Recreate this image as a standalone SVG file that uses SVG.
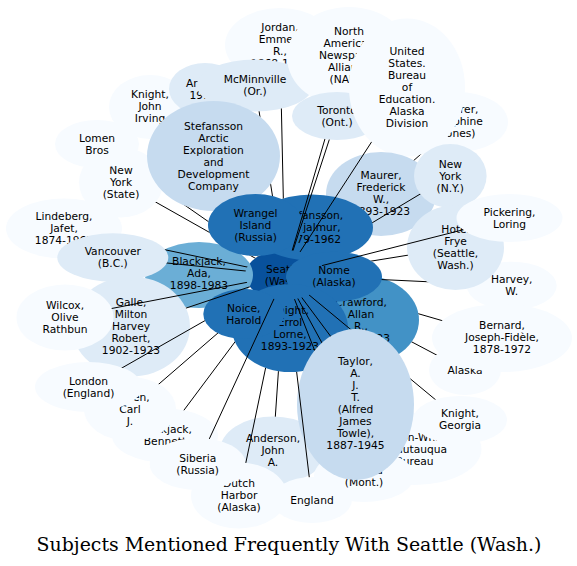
<svg xmlns="http://www.w3.org/2000/svg" xmlns:xlink="http://www.w3.org/1999/xlink" width="577" height="566" viewBox="0 0 577 566">
<style>
.node text{font-family:"DejaVu Sans","Liberation Sans",sans-serif;font-size:10.7px;text-anchor:middle;fill:#000}
.c1{fill:#f7fbff}.c2{fill:#deebf7}.c3{fill:#c6dbef}.c5{fill:#6baed6}.c6{fill:#4292c6}.c7{fill:#2171b5}.c8{fill:#08519c}
mask use{fill:#000}
.edges line{stroke:#000;stroke-width:1}
.title{font-family:"DejaVu Serif","Liberation Serif",serif;font-size:18.9px;text-anchor:middle;fill:#000}
</style>
<defs>
<mask id="m-jordan" maskUnits="userSpaceOnUse" x="0" y="0" width="577" height="566"><rect width="577" height="566" fill="#fff"/><use href="#e-seattle"/><use href="#e-jordan"/><use href="#e-wrangel"/><use href="#e-stefv"/><use href="#e-mcm"/></mask>
<mask id="m-mcm" maskUnits="userSpaceOnUse" x="0" y="0" width="577" height="566"><rect width="577" height="566" fill="#fff"/><use href="#e-seattle"/><use href="#e-mcm"/><use href="#e-wrangel"/><use href="#e-sa"/><use href="#e-stefv"/></mask>
<mask id="m-ar" maskUnits="userSpaceOnUse" x="0" y="0" width="577" height="566"><rect width="577" height="566" fill="#fff"/><use href="#e-seattle"/><use href="#e-ar"/><use href="#e-wrangel"/><use href="#e-sa"/><use href="#e-mcm"/></mask>
<mask id="m-kji" maskUnits="userSpaceOnUse" x="0" y="0" width="577" height="566"><rect width="577" height="566" fill="#fff"/><use href="#e-seattle"/><use href="#e-kji"/><use href="#e-sa"/><use href="#e-wrangel"/></mask>
<mask id="m-lomenbros" maskUnits="userSpaceOnUse" x="0" y="0" width="577" height="566"><rect width="577" height="566" fill="#fff"/><use href="#e-seattle"/><use href="#e-lomenbros"/><use href="#e-sa"/><use href="#e-wrangel"/><use href="#e-nys"/></mask>
<mask id="m-nys" maskUnits="userSpaceOnUse" x="0" y="0" width="577" height="566"><rect width="577" height="566" fill="#fff"/><use href="#e-seattle"/><use href="#e-nys"/><use href="#e-wrangel"/></mask>
<mask id="m-lindeberg" maskUnits="userSpaceOnUse" x="0" y="0" width="577" height="566"><rect width="577" height="566" fill="#fff"/><use href="#e-seattle"/><use href="#e-lindeberg"/><use href="#e-vancouver"/></mask>
<mask id="m-vancouver" maskUnits="userSpaceOnUse" x="0" y="0" width="577" height="566"><rect width="577" height="566" fill="#fff"/><use href="#e-seattle"/><use href="#e-vancouver"/></mask>
<mask id="m-wilcox" maskUnits="userSpaceOnUse" x="0" y="0" width="577" height="566"><rect width="577" height="566" fill="#fff"/><use href="#e-seattle"/><use href="#e-wilcox"/></mask>
<mask id="m-galle" maskUnits="userSpaceOnUse" x="0" y="0" width="577" height="566"><rect width="577" height="566" fill="#fff"/><use href="#e-seattle"/><use href="#e-galle"/></mask>
<mask id="m-london" maskUnits="userSpaceOnUse" x="0" y="0" width="577" height="566"><rect width="577" height="566" fill="#fff"/><use href="#e-seattle"/><use href="#e-london"/><use href="#e-noice"/></mask>
<mask id="m-lomencarl" maskUnits="userSpaceOnUse" x="0" y="0" width="577" height="566"><rect width="577" height="566" fill="#fff"/><use href="#e-seattle"/><use href="#e-lomencarl"/><use href="#e-noice"/><use href="#e-ke"/></mask>
<mask id="m-bennett" maskUnits="userSpaceOnUse" x="0" y="0" width="577" height="566"><rect width="577" height="566" fill="#fff"/><use href="#e-seattle"/><use href="#e-bennett"/><use href="#e-noice"/><use href="#e-ke"/></mask>
<mask id="m-siberia" maskUnits="userSpaceOnUse" x="0" y="0" width="577" height="566"><rect width="577" height="566" fill="#fff"/><use href="#e-seattle"/><use href="#e-siberia"/></mask>
<mask id="m-dutch" maskUnits="userSpaceOnUse" x="0" y="0" width="577" height="566"><rect width="577" height="566" fill="#fff"/><use href="#e-seattle"/><use href="#e-dutch"/><use href="#e-ke"/><use href="#e-noice"/></mask>
<mask id="m-anderson" maskUnits="userSpaceOnUse" x="0" y="0" width="577" height="566"><rect width="577" height="566" fill="#fff"/><use href="#e-seattle"/><use href="#e-anderson"/><use href="#e-ke"/></mask>
<mask id="m-england" maskUnits="userSpaceOnUse" x="0" y="0" width="577" height="566"><rect width="577" height="566" fill="#fff"/><use href="#e-seattle"/><use href="#e-england"/><use href="#e-ke"/></mask>
<mask id="m-helena" maskUnits="userSpaceOnUse" x="0" y="0" width="577" height="566"><rect width="577" height="566" fill="#fff"/><use href="#e-seattle"/><use href="#e-helena"/><use href="#e-taylor"/></mask>
<mask id="m-taylor" maskUnits="userSpaceOnUse" x="0" y="0" width="577" height="566"><rect width="577" height="566" fill="#fff"/><use href="#e-seattle"/><use href="#e-taylor"/></mask>
<mask id="m-ellison" maskUnits="userSpaceOnUse" x="0" y="0" width="577" height="566"><rect width="577" height="566" fill="#fff"/><use href="#e-seattle"/><use href="#e-ellison"/><use href="#e-taylor"/></mask>
<mask id="m-kg" maskUnits="userSpaceOnUse" x="0" y="0" width="577" height="566"><rect width="577" height="566" fill="#fff"/><use href="#e-seattle"/><use href="#e-kg"/><use href="#e-taylor"/></mask>
<mask id="m-alaska" maskUnits="userSpaceOnUse" x="0" y="0" width="577" height="566"><rect width="577" height="566" fill="#fff"/><use href="#e-seattle"/><use href="#e-alaska"/><use href="#e-crawford"/><use href="#e-nome"/><use href="#e-ke"/></mask>
<mask id="m-bernard" maskUnits="userSpaceOnUse" x="0" y="0" width="577" height="566"><rect width="577" height="566" fill="#fff"/><use href="#e-seattle"/><use href="#e-bernard"/><use href="#e-crawford"/><use href="#e-nome"/></mask>
<mask id="m-harvey" maskUnits="userSpaceOnUse" x="0" y="0" width="577" height="566"><rect width="577" height="566" fill="#fff"/><use href="#e-seattle"/><use href="#e-harvey"/><use href="#e-nome"/><use href="#e-hotel"/></mask>
<mask id="m-hotel" maskUnits="userSpaceOnUse" x="0" y="0" width="577" height="566"><rect width="577" height="566" fill="#fff"/><use href="#e-seattle"/><use href="#e-hotel"/><use href="#e-nome"/></mask>
<mask id="m-pickering" maskUnits="userSpaceOnUse" x="0" y="0" width="577" height="566"><rect width="577" height="566" fill="#fff"/><use href="#e-seattle"/><use href="#e-pickering"/></mask>
<mask id="m-nyny" maskUnits="userSpaceOnUse" x="0" y="0" width="577" height="566"><rect width="577" height="566" fill="#fff"/><use href="#e-seattle"/><use href="#e-nyny"/><use href="#e-stefv"/></mask>
<mask id="m-maurer" maskUnits="userSpaceOnUse" x="0" y="0" width="577" height="566"><rect width="577" height="566" fill="#fff"/><use href="#e-seattle"/><use href="#e-maurer"/><use href="#e-stefv"/></mask>
<mask id="m-rer" maskUnits="userSpaceOnUse" x="0" y="0" width="577" height="566"><rect width="577" height="566" fill="#fff"/><use href="#e-seattle"/><use href="#e-rer"/><use href="#e-stefv"/><use href="#e-maurer"/><use href="#e-nyny"/><use href="#e-usb"/></mask>
<mask id="m-usb" maskUnits="userSpaceOnUse" x="0" y="0" width="577" height="566"><rect width="577" height="566" fill="#fff"/><use href="#e-seattle"/><use href="#e-usb"/></mask>
<mask id="m-toronto" maskUnits="userSpaceOnUse" x="0" y="0" width="577" height="566"><rect width="577" height="566" fill="#fff"/><use href="#e-seattle"/><use href="#e-toronto"/></mask>
<mask id="m-nana" maskUnits="userSpaceOnUse" x="0" y="0" width="577" height="566"><rect width="577" height="566" fill="#fff"/><use href="#e-seattle"/><use href="#e-nana"/><use href="#e-toronto"/></mask>
</defs>
<rect width="577" height="566" fill="#fff"/>
<g id="nodes">
<g id="seattle" class="node c8"><ellipse id="e-seattle" cx="285" cy="275" rx="40" ry="25"/><text><tspan x="285" y="272.5">Seattle</tspan><tspan x="285" y="284.5">(Wash.)</tspan></text></g>
<g id="jordan" class="node c1"><ellipse id="e-jordan" cx="280" cy="45" rx="55" ry="37"/><text><tspan x="280" y="30.5">Jordan,</tspan><tspan x="280" y="42.5">Emmett</tspan><tspan x="280" y="54.5">R.,</tspan><tspan x="280" y="66.5">1868-1941</tspan></text></g>
<g id="kji" class="node c1"><ellipse id="e-kji" cx="150" cy="107" rx="41" ry="32"/><text><tspan x="150" y="98">Knight,</tspan><tspan x="150" y="110">John</tspan><tspan x="150" y="122">Irving</tspan></text></g>
<g id="ar" class="node c2"><ellipse id="e-ar" cx="205" cy="89" rx="36" ry="26"/><text><tspan x="205" y="87">Arnold,</tspan><tspan x="205" y="99">1919-</tspan></text></g>
<g id="mcm" class="node c2"><ellipse id="e-mcm" cx="255" cy="85.5" rx="58" ry="26"/><text><tspan x="255" y="83">McMinnville</tspan><tspan x="255" y="95">(Or.)</tspan></text></g>
<g id="nana" class="node c1"><ellipse id="e-nana" cx="349" cy="57" rx="62" ry="50"/><text><tspan x="349" y="35">North</tspan><tspan x="349" y="47">American</tspan><tspan x="349" y="59">Newspaper</tspan><tspan x="349" y="71">Alliance</tspan><tspan x="349" y="83">(NANA)</tspan></text></g>
<g id="toronto" class="node c2"><ellipse id="e-toronto" cx="337" cy="116" rx="45" ry="24"/><text><tspan x="337" y="113.5">Toronto</tspan><tspan x="337" y="125.5">(Ont.)</tspan></text></g>
<g id="rer" class="node c1"><ellipse id="e-rer" cx="457" cy="122" rx="51" ry="30"/><text><tspan x="457" y="113">Sherrer,</tspan><tspan x="457" y="125">Josephine</tspan><tspan x="457" y="137">(Jones)</tspan></text></g>
<g id="usb" class="node c1"><ellipse id="e-usb" cx="407" cy="87.5" rx="58" ry="69"/><text><tspan x="407" y="55">United</tspan><tspan x="407" y="67">States.</tspan><tspan x="407" y="79">Bureau</tspan><tspan x="407" y="91">of</tspan><tspan x="407" y="103">Education.</tspan><tspan x="407" y="115">Alaska</tspan><tspan x="407" y="127">Division</tspan></text></g>
<g id="maurer" class="node c3"><ellipse id="e-maurer" cx="381" cy="194" rx="55" ry="42"/><text><tspan x="381" y="178.5">Maurer,</tspan><tspan x="381" y="190.5">Frederick</tspan><tspan x="381" y="202.5">W.,</tspan><tspan x="381" y="214.5">1893-1923</tspan></text></g>
<g id="nyny" class="node c2"><ellipse id="e-nyny" cx="450.3" cy="176" rx="36.3" ry="32"/><text><tspan x="450.3" y="168">New</tspan><tspan x="450.3" y="180">York</tspan><tspan x="450.3" y="192">(N.Y.)</tspan></text></g>
<g id="stefv" class="node c7"><ellipse id="e-stefv" cx="312" cy="227.5" rx="61" ry="33"/><text><tspan x="312" y="219">Stefansson,</tspan><tspan x="312" y="231">Vilhjalmur,</tspan><tspan x="312" y="243">1879-1962</tspan></text></g>
<g id="nys" class="node c1"><ellipse id="e-nys" cx="121" cy="182.5" rx="42" ry="35"/><text><tspan x="121" y="174">New</tspan><tspan x="121" y="186">York</tspan><tspan x="121" y="198">(State)</tspan></text></g>
<g id="lindeberg" class="node c1"><ellipse id="e-lindeberg" cx="64" cy="228.5" rx="58" ry="30"/><text><tspan x="64" y="220">Lindeberg,</tspan><tspan x="64" y="232">Jafet,</tspan><tspan x="64" y="244">1874-1962</tspan></text></g>
<g id="lomenbros" class="node c1"><ellipse id="e-lomenbros" cx="97" cy="144" rx="42" ry="24"/><text><tspan x="97" y="141.5">Lomen</tspan><tspan x="97" y="153.5">Bros</tspan></text></g>
<g id="sa" class="node c3"><ellipse id="e-sa" cx="213.5" cy="156" rx="66.5" ry="55"/><text><tspan x="213.5" y="129.5">Stefansson</tspan><tspan x="213.5" y="141.5">Arctic</tspan><tspan x="213.5" y="153.5">Exploration</tspan><tspan x="213.5" y="165.5">and</tspan><tspan x="213.5" y="177.5">Development</tspan><tspan x="213.5" y="189.5">Company</tspan></text></g>
<g id="blackjack" class="node c5"><ellipse id="e-blackjack" cx="199" cy="275" rx="54" ry="33"/><text><tspan x="199" y="264.5">Blackjack,</tspan><tspan x="199" y="276.5">Ada,</tspan><tspan x="199" y="288.5">1898-1983</tspan></text></g>
<g id="wrangel" class="node c7"><ellipse id="e-wrangel" cx="255.5" cy="225" rx="47.5" ry="31"/><text><tspan x="255.5" y="216.5">Wrangel</tspan><tspan x="255.5" y="228.5">Island</tspan><tspan x="255.5" y="240.5">(Russia)</tspan></text></g>
<g id="galle" class="node c2"><ellipse id="e-galle" cx="131" cy="326.5" rx="59" ry="50"/><text><tspan x="131" y="306">Galle,</tspan><tspan x="131" y="318">Milton</tspan><tspan x="131" y="330">Harvey</tspan><tspan x="131" y="342">Robert,</tspan><tspan x="131" y="354">1902-1923</tspan></text></g>
<g id="wilcox" class="node c1"><ellipse id="e-wilcox" cx="65" cy="317.5" rx="48.5" ry="33"/><text><tspan x="65" y="309">Wilcox,</tspan><tspan x="65" y="321">Olive</tspan><tspan x="65" y="333">Rathbun</tspan></text></g>
<g id="vancouver" class="node c2"><ellipse id="e-vancouver" cx="112.8" cy="257.5" rx="55.5" ry="24.2"/><text><tspan x="112.8" y="255">Vancouver</tspan><tspan x="112.8" y="267">(B.C.)</tspan></text></g>
<g id="harvey" class="node c1"><ellipse id="e-harvey" cx="511.7" cy="285.7" rx="45" ry="24"/><text><tspan x="511.7" y="283.2">Harvey,</tspan><tspan x="511.7" y="295.2">W.</tspan></text></g>
<g id="hotel" class="node c2"><ellipse id="e-hotel" cx="455.5" cy="247.5" rx="48.5" ry="42.5"/><text><tspan x="455.5" y="233">Hotel</tspan><tspan x="455.5" y="245">Frye</tspan><tspan x="455.5" y="257">(Seattle,</tspan><tspan x="455.5" y="269">Wash.)</tspan></text></g>
<g id="pickering" class="node c1"><ellipse id="e-pickering" cx="509.5" cy="218" rx="53" ry="24"/><text><tspan x="509.5" y="215.5">Pickering,</tspan><tspan x="509.5" y="227.5">Loring</tspan></text></g>
<g id="alaska" class="node c1"><ellipse id="e-alaska" cx="465" cy="370" rx="36" ry="25"/><text><tspan x="465" y="373.5">Alaska</tspan></text></g>
<g id="bernard" class="node c1"><ellipse id="e-bernard" cx="502" cy="338" rx="70" ry="34"/><text><tspan x="502" y="329">Bernard,</tspan><tspan x="502" y="341">Joseph-Fidèle,</tspan><tspan x="502" y="353">1878-1972</tspan></text></g>
<g id="crawford" class="node c6"><ellipse id="e-crawford" cx="361" cy="320" rx="58" ry="45"/><text><tspan x="361" y="305.5">Crawford,</tspan><tspan x="361" y="317.5">Allan</tspan><tspan x="361" y="329.5">R.,</tspan><tspan x="361" y="341.5">1901-1923</tspan></text></g>
<g id="nome" class="node c7"><ellipse id="e-nome" cx="334" cy="276.7" rx="48" ry="25"/><text><tspan x="334" y="274.2">Nome</tspan><tspan x="334" y="286.2">(Alaska)</tspan></text></g>
<g id="ke" class="node c7"><ellipse id="e-ke" cx="290" cy="328" rx="58" ry="44"/><text><tspan x="290" y="313.5">Knight,</tspan><tspan x="290" y="325.5">Errol</tspan><tspan x="290" y="337.5">Lorne,</tspan><tspan x="290" y="349.5">1893-1923</tspan></text></g>
<g id="noice" class="node c7"><ellipse id="e-noice" cx="243.8" cy="314" rx="40.5" ry="25"/><text><tspan x="243.8" y="311.5">Noice,</tspan><tspan x="243.8" y="323.5">Harold</tspan></text></g>
<g id="bennett" class="node c1"><ellipse id="e-bennett" cx="165" cy="435.5" rx="53" ry="27"/><text><tspan x="165" y="433">Blackjack,</tspan><tspan x="165" y="445">Bennett</tspan></text></g>
<g id="lomencarl" class="node c1"><ellipse id="e-lomencarl" cx="130" cy="409" rx="46" ry="32"/><text><tspan x="130" y="400.5">Lomen,</tspan><tspan x="130" y="412.5">Carl</tspan><tspan x="130" y="424.5">J.</tspan></text></g>
<g id="london" class="node c1"><ellipse id="e-london" cx="88.5" cy="387" rx="53.5" ry="25"/><text><tspan x="88.5" y="384.5">London</tspan><tspan x="88.5" y="396.5">(England)</tspan></text></g>
<g id="anderson" class="node c2"><ellipse id="e-anderson" cx="273" cy="450.5" rx="53" ry="34"/><text><tspan x="273" y="442">Anderson,</tspan><tspan x="273" y="454">John</tspan><tspan x="273" y="466">A.</tspan></text></g>
<g id="dutch" class="node c1"><ellipse id="e-dutch" cx="239" cy="495.5" rx="48" ry="33"/><text><tspan x="239" y="487">Dutch</tspan><tspan x="239" y="499">Harbor</tspan><tspan x="239" y="511">(Alaska)</tspan></text></g>
<g id="siberia" class="node c1"><ellipse id="e-siberia" cx="197.7" cy="464" rx="48" ry="26"/><text><tspan x="197.7" y="461.5">Siberia</tspan><tspan x="197.7" y="473.5">(Russia)</tspan></text></g>
<g id="ellison" class="node c1"><ellipse id="e-ellison" cx="414.5" cy="449" rx="67" ry="36"/><text><tspan x="414.5" y="440.5">Ellison-White</tspan><tspan x="414.5" y="452.5">Chautauqua</tspan><tspan x="414.5" y="464.5">Bureau</tspan></text></g>
<g id="kg" class="node c1"><ellipse id="e-kg" cx="460" cy="420" rx="47" ry="24"/><text><tspan x="460" y="417">Knight,</tspan><tspan x="460" y="429">Georgia</tspan></text></g>
<g id="helena" class="node c1"><ellipse id="e-helena" cx="364" cy="476" rx="50" ry="26"/><text><tspan x="364" y="473.5">Helena</tspan><tspan x="364" y="485.5">(Mont.)</tspan></text></g>
<g id="taylor" class="node c3"><ellipse id="e-taylor" cx="355.5" cy="404.5" rx="58.5" ry="75.5"/><text><tspan x="355.5" y="365">Taylor,</tspan><tspan x="355.5" y="377">A.</tspan><tspan x="355.5" y="389">J.</tspan><tspan x="355.5" y="401">T.</tspan><tspan x="355.5" y="413">(Alfred</tspan><tspan x="355.5" y="425">James</tspan><tspan x="355.5" y="437">Towle),</tspan><tspan x="355.5" y="449">1887-1945</tspan></text></g>
<g id="england" class="node c1"><ellipse id="e-england" cx="312" cy="500" rx="40" ry="23"/><text><tspan x="312" y="503.5">England</tspan></text></g>
</g>
<g id="edges" class="edges">
<line x1="285" y1="275" x2="280" y2="45" mask="url(#m-jordan)"/>
<line x1="285" y1="275" x2="255" y2="85.5" mask="url(#m-mcm)"/>
<line x1="285" y1="275" x2="205" y2="89" mask="url(#m-ar)"/>
<line x1="285" y1="275" x2="150" y2="107" mask="url(#m-kji)"/>
<line x1="285" y1="275" x2="97" y2="144" mask="url(#m-lomenbros)"/>
<line x1="285" y1="275" x2="121" y2="182.5" mask="url(#m-nys)"/>
<line x1="285" y1="275" x2="64" y2="228.5" mask="url(#m-lindeberg)"/>
<line x1="285" y1="275" x2="112.8" y2="257.5" mask="url(#m-vancouver)"/>
<line x1="285" y1="275" x2="65" y2="317.5" mask="url(#m-wilcox)"/>
<line x1="285" y1="275" x2="131" y2="326.5" mask="url(#m-galle)"/>
<line x1="285" y1="275" x2="88.5" y2="387" mask="url(#m-london)"/>
<line x1="285" y1="275" x2="130" y2="409" mask="url(#m-lomencarl)"/>
<line x1="285" y1="275" x2="165" y2="435.5" mask="url(#m-bennett)"/>
<line x1="285" y1="275" x2="197.7" y2="464" mask="url(#m-siberia)"/>
<line x1="285" y1="275" x2="239" y2="495.5" mask="url(#m-dutch)"/>
<line x1="285" y1="275" x2="273" y2="450.5" mask="url(#m-anderson)"/>
<line x1="285" y1="275" x2="312" y2="500" mask="url(#m-england)"/>
<line x1="285" y1="275" x2="364" y2="476" mask="url(#m-helena)"/>
<line x1="285" y1="275" x2="355.5" y2="404.5" mask="url(#m-taylor)"/>
<line x1="285" y1="275" x2="414.5" y2="449" mask="url(#m-ellison)"/>
<line x1="285" y1="275" x2="460" y2="420" mask="url(#m-kg)"/>
<line x1="285" y1="275" x2="465" y2="370" mask="url(#m-alaska)"/>
<line x1="285" y1="275" x2="502" y2="338" mask="url(#m-bernard)"/>
<line x1="285" y1="275" x2="511.7" y2="285.7" mask="url(#m-harvey)"/>
<line x1="285" y1="275" x2="455.5" y2="247.5" mask="url(#m-hotel)"/>
<line x1="285" y1="275" x2="509.5" y2="218" mask="url(#m-pickering)"/>
<line x1="285" y1="275" x2="450.3" y2="176" mask="url(#m-nyny)"/>
<line x1="285" y1="275" x2="381" y2="194" mask="url(#m-maurer)"/>
<line x1="285" y1="275" x2="457" y2="122" mask="url(#m-rer)"/>
<line x1="285" y1="275" x2="407" y2="87.5" mask="url(#m-usb)"/>
<line x1="285" y1="275" x2="337" y2="116" mask="url(#m-toronto)"/>
<line x1="285" y1="275" x2="349" y2="57" mask="url(#m-nana)"/>
</g>
<text class="title" x="289" y="551">Subjects Mentioned Frequently With Seattle (Wash.)</text>
</svg>
